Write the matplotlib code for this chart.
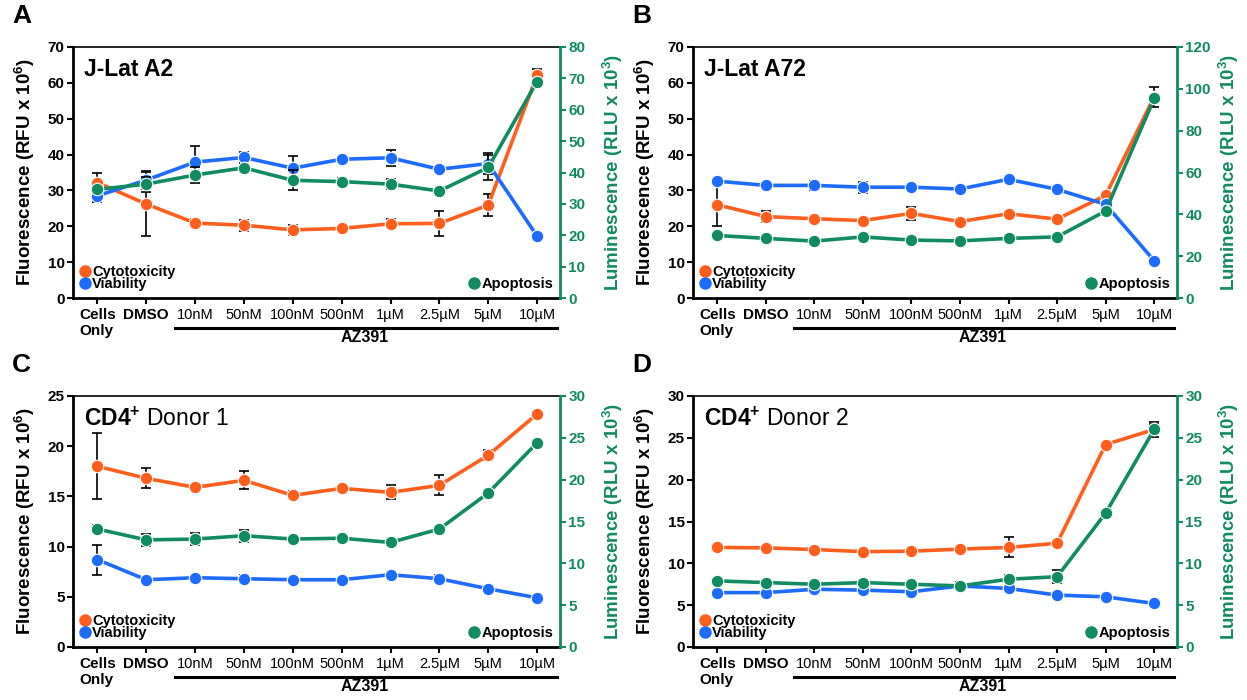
import matplotlib
matplotlib.use("Agg")
import matplotlib.pyplot as plt
from matplotlib.lines import Line2D
from matplotlib.transforms import blended_transform_factory

plt.rcParams["font.family"] = ["Liberation Sans", "DejaVu Sans"]
plt.rcParams["mathtext.fontset"] = "custom"
plt.rcParams["mathtext.rm"] = "Liberation Sans"
plt.rcParams["mathtext.bf"] = "Liberation Sans:bold"

ORANGE = "#ff5e1f"
BLUE = "#1f6bff"
GREEN = "#128a62"

labels = ["Cells\nOnly", "DMSO", "10nM", "50nM", "100nM", "500nM",
          "1µM", "2.5µM", "5µM", "10µM"]

# Panel A: J-Lat A2
a_cyto = [32.2, 26.2, 20.9, 20.3, 19.0, 19.4, 20.7, 20.8, 25.9, 62.1]
a_cyto_err = [2.8, 9.0, 1.2, 1.5, 1.4, 0.5, 1.3, 3.5, 3.0, 1.8]
a_via = [28.5, 32.9, 37.9, 39.2, 36.2, 38.7, 39.1, 35.9, 37.5, 17.3]
a_via_err = [1.8, 2.5, 4.5, 1.5, 3.4, 0.5, 2.2, 0.6, 2.8, 0.3]
a_apo = [34.6, 36.3, 39.2, 41.5, 37.5, 37.1, 36.3, 34.1, 41.6, 69.0]
a_apo_err = [1.0, 2.4, 2.5, 1.2, 3.2, 1.0, 1.5, 0.8, 4.0, 0.5]

# Panel B: J-Lat A72
b_cyto = [26.0, 22.7, 22.1, 21.6, 23.6, 21.3, 23.5, 22.0, 28.6, 56.1]
b_cyto_err = [6.0, 1.5, 0.4, 0.5, 1.8, 0.4, 0.5, 0.4, 0.5, 2.7]
b_via = [32.6, 31.4, 31.4, 30.9, 30.9, 30.4, 33.1, 30.3, 26.1, 10.4]
b_via_err = [0.4, 0.4, 1.2, 1.5, 0.4, 0.3, 0.3, 0.4, 0.8, 0.3]
b_apo = [29.9, 28.5, 27.2, 29.2, 27.7, 27.3, 28.5, 29.2, 41.6, 95.4]
b_apo_err = [0.5, 0.5, 0.5, 0.5, 0.5, 0.5, 0.5, 0.5, 1.5, 1.0]

# Panel C: CD4+ Donor 1
c_cyto = [18.0, 16.8, 15.9, 16.6, 15.1, 15.8, 15.4, 16.1, 19.1, 23.2]
c_cyto_err = [3.3, 1.0, 0.2, 0.9, 0.4, 0.2, 0.7, 1.0, 0.5, 0.2]
c_via = [8.7, 6.7, 6.9, 6.8, 6.7, 6.7, 7.2, 6.8, 5.8, 4.9]
c_via_err = [1.5, 0.2, 0.2, 0.4, 0.2, 0.2, 0.2, 0.4, 0.2, 0.1]
c_apo = [14.1, 12.8, 12.9, 13.3, 12.9, 13.0, 12.5, 14.1, 18.4, 24.4]
c_apo_err = [0.5, 0.7, 0.7, 0.7, 0.3, 0.3, 0.4, 0.3, 0.4, 0.2]

# Panel D: CD4+ Donor 2
d_cyto = [11.9, 11.85, 11.65, 11.4, 11.45, 11.7, 11.9, 12.4, 24.2, 26.0]
d_cyto_err = [0.2, 0.2, 0.2, 0.2, 0.2, 0.2, 1.2, 0.2, 0.2, 0.9]
d_via = [6.5, 6.5, 6.9, 6.8, 6.6, 7.3, 7.0, 6.2, 6.0, 5.2]
d_via_err = [0.2, 0.2, 0.2, 0.2, 0.2, 0.2, 0.2, 0.2, 0.2, 0.1]
d_apo = [7.9, 7.7, 7.5, 7.7, 7.5, 7.3, 8.1, 8.4, 16.0, 26.0]
d_apo_err = [0.2, 0.2, 0.2, 0.2, 0.2, 0.5, 0.5, 0.8, 0.2, 0.6]

W, H = 1247, 700
fig = plt.figure(figsize=(W / 100, H / 100), dpi=100)


def px_axes(left, top, right, bottom):
    return fig.add_axes([left / W, 1 - bottom / H, (right - left) / W, (bottom - top) / H])


def series(ax, y, err, color):
    x = range(len(y))
    ax.errorbar(x, y, yerr=err, fmt="none", ecolor="black", elinewidth=1.2,
                capsize=3.5, capthick=1.2, zorder=2)
    ax.plot(x, y, color=color, lw=2.6, marker="o", ms=9, mfc=color,
            mec="#ffffff", mew=0.8, zorder=3)


def panel(box, letter, title, cyto, cyto_err, via, via_err, apo, apo_err,
          ymax, ystep, rmax, rstep):
    ax = px_axes(*box)
    ax2 = ax.twinx()
    ax.set_zorder(1)
    ax2.set_zorder(2)
    ax2.patch.set_visible(False)

    series(ax, cyto, cyto_err, ORANGE)
    series(ax, via, via_err, BLUE)
    series(ax2, apo, apo_err, GREEN)

    ax.set_xlim(-0.5, 9.47)
    ax.set_ylim(0, ymax)
    ax2.set_ylim(0, rmax)
    ax.set_yticks(range(0, ymax + 1, ystep))
    ax2.set_yticks(range(0, rmax + 1, rstep))

    ax.set_xticks(range(len(labels)))
    ax.set_xticklabels(labels, fontsize=10.5)
    for i, t in enumerate(ax.get_xticklabels()):
        if i < 2:
            t.set_fontweight("bold")
            t.set_fontsize(11)
        if i == 0:
            t.set_multialignment("left")
            t.set_verticalalignment("top")

    for lab in ax.get_yticklabels():
        lab.set_fontweight("bold")
    for lab in ax2.get_yticklabels():
        lab.set_fontweight("bold")
    ax.tick_params(axis="y", labelsize=11, length=4, width=1.5, pad=2)
    ax.tick_params(axis="x", length=4, width=1.5, pad=3)
    ax2.tick_params(axis="y", labelsize=11, length=4, width=1.5, pad=2,
                    colors=GREEN)

    for s in ["left", "bottom"]:
        ax.spines[s].set_linewidth(2)
    ax.spines["top"].set_linewidth(1.2)
    ax2.spines["top"].set_visible(False)
    ax2.spines["left"].set_visible(False)
    ax2.spines["bottom"].set_visible(False)
    ax2.spines["right"].set_color(GREEN)
    ax2.spines["right"].set_linewidth(2)
    ax.spines["right"].set_visible(False)

    ax.set_ylabel("Fluorescence (RFU x 10$^{\\mathbf{6}}$)", fontsize=13.5,
                  fontweight="bold")
    ax.yaxis.set_label_coords(-0.074, 0.5)
    ax2.set_ylabel("Luminescence (RLU x 10$^{\\mathbf{3}}$)", fontsize=13.5,
                   fontweight="bold", color=GREEN, rotation=90)
    ax2.yaxis.set_label_coords(1.082, 0.5)

    ax.text(-0.125, 1.075, letter, transform=ax.transAxes, fontsize=19,
            fontweight="bold", ha="left", va="bottom")
    ax.text(0.022, 0.955, title, transform=ax.transAxes, fontsize=16.5,
            fontweight="bold" if "CD4" not in title else "normal",
            ha="left", va="top")

    h1 = [Line2D([], [], ls="none", marker="o", ms=8, color=ORANGE),
          Line2D([], [], ls="none", marker="o", ms=8, color=BLUE)]
    ax.legend(h1, ["Cytotoxicity", "Viability"], loc="lower left",
              bbox_to_anchor=(0.0, 0.0), frameon=False,
              prop={"weight": "bold", "size": 10.5}, handlelength=0.7,
              handletextpad=0.15, labelspacing=-0.1, borderaxespad=0.25,
              borderpad=0.2)
    h2 = [Line2D([], [], ls="none", marker="o", ms=8, color=GREEN)]
    ax2.legend(h2, ["Apoptosis"], loc="lower right", frameon=False,
               prop={"weight": "bold", "size": 10.5}, handlelength=0.7,
               handletextpad=0.15, borderaxespad=0.25, borderpad=0.2)

    tr = blended_transform_factory(ax.transData, ax.transAxes)
    ax.plot([1.58, 9.4], [-0.118, -0.118], color="black", lw=2.2,
            transform=tr, clip_on=False)
    ax.text(5.47, -0.128, "AZ391", transform=tr, fontsize=11.5,
            fontweight="bold", ha="center", va="top")
    return ax


panel((73, 47, 560, 298), "A", "J-Lat A2", a_cyto, a_cyto_err, a_via, a_via_err,
      a_apo, a_apo_err, 70, 10, 80, 10)
panel((693, 47, 1177, 298), "B", "J-Lat A72", b_cyto, b_cyto_err, b_via, b_via_err,
      b_apo, b_apo_err, 70, 10, 120, 20)
panel((73, 396, 560, 647), "C", "$\\mathbf{CD4^{+}}$ Donor 1", c_cyto, c_cyto_err,
      c_via, c_via_err, c_apo, c_apo_err, 25, 5, 30, 5)
panel((693, 396, 1177, 647), "D", "$\\mathbf{CD4^{+}}$ Donor 2", d_cyto, d_cyto_err,
      d_via, d_via_err, d_apo, d_apo_err, 30, 5, 30, 5)

fig.savefig("out.png", dpi=100)
